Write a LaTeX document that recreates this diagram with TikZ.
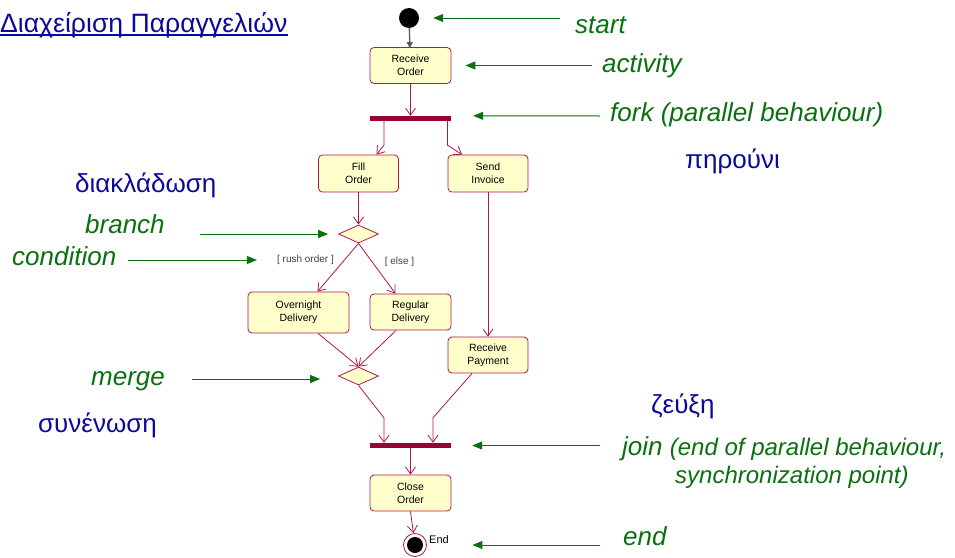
\documentclass[tikz,border=0pt]{standalone}
\usepackage{fontspec}
\setmainfont{Liberation Sans}
\usepackage{xcolor}
\usetikzlibrary{arrows.meta,shapes.geometric}
\definecolor{actborder}{HTML}{B0174A}
\definecolor{actfill}{HTML}{FFFFCC}
\definecolor{barcol}{HTML}{990033}
\definecolor{notegreen}{HTML}{0A7010}
\definecolor{noteblue}{HTML}{0A0A9A}

\begin{document}
\begin{tikzpicture}[x=1pt,y=-1pt,
  act/.style={draw=actborder, fill=actfill, rounded corners=4pt, minimum width=81pt, minimum height=36pt, align=center, font=\fontsize{10.5}{13}\selectfont, inner sep=0pt, line width=0.8pt},
  bar/.style={fill=barcol, minimum width=81pt, minimum height=5pt, inner sep=0pt},
  decision/.style={diamond, draw=actborder, fill=actfill, minimum width=40pt, minimum height=18pt, inner sep=0pt, aspect=2.2, line width=0.8pt},
  flow/.style={draw=actborder, line width=0.8pt, -{Straight Barb[length=7pt,width=10pt]}},
  note/.style={text=notegreen, font=\fontsize{26}{30}\selectfont\itshape, anchor=base west, inner sep=0pt},
  greek/.style={text=noteblue, font=\fontsize{26}{30}\selectfont, anchor=base west, inner sep=0pt},
  pointer/.style={draw=notegreen, line width=1pt, -{Triangle[length=10pt,width=8pt]}},
  guard/.style={font=\fontsize{10}{11}\selectfont, text=black!75, inner sep=0pt}]
\useasboundingbox (0,0) rectangle (955,557);

% Title
\node[text=noteblue, font=\fontsize{26.6}{30}\selectfont, anchor=base west, inner sep=0pt] (title) at (0,32) {Διαχείριση Παραγγελιών};
\draw[noteblue, line width=1.2pt] ([yshift=-3pt]title.base west) -- ([yshift=-3pt]title.base east);

% Start and end
\node[circle, fill=black, minimum size=20pt, inner sep=0pt] (start) at (409,18) {};
\node[circle, draw=actborder, fill=white, minimum size=23pt, inner sep=0pt, line width=0.8pt] (end) at (415,545) {};
\node[circle, fill=black, minimum size=16pt, inner sep=0pt] (endin) at (415,545) {};
\node[font=\fontsize{11}{12}\selectfont, anchor=west, inner sep=0pt] (endlabel) at (429,540) {End};

% Activities
\node[act] (recv) at (410.5,65.5) {Receive\\Order};
\node[act, minimum width=80pt, minimum height=37pt] (fill) at (358.5,173.5) {Fill\\Order};
\node[act, minimum width=80pt, minimum height=37pt] (send) at (488,173.5) {Send\\Invoice};
\node[act, minimum width=101pt, minimum height=41pt] (over) at (298.5,312.5) {Overnight\\Delivery};
\node[act] (reg) at (410.5,312) {Regular\\Delivery};
\node[act, minimum width=80pt] (pay) at (488,355) {Receive\\Payment};
\node[act] (close) at (410.5,493) {Close\\Order};

% Fork, join, decisions
\node[bar] (fork) at (410.5,118.5) {};
\node[bar] (join) at (410.5,445.5) {};
\node[decision] (branch) at (358.5,234) {};
\node[decision] (merge) at (358.5,376) {};

% Guards
\node[guard] (rush) at (305.5,260) {[ rush order ]};
\node[guard] (else) at (399.5,262) {[ else ]};

% Flows
\draw[black!65, line width=1.3pt, -{Triangle[length=6pt,width=6pt]}, shorten >=-1pt] (start) -- (recv);
\draw[flow] (recv) -- (fork);
\draw[flow] ([xshift=-26.5pt]fork.south) -- ++(0,24) -- ([xshift=18pt]fill.north);
\draw[flow] ([xshift=37pt]fork.south) -- ++(0,24) -- ([xshift=-26pt]send.north);
\draw[flow] (fill) -- (branch);
\draw[flow] (branch.south) -- ([xshift=19pt]over.north);
\draw[flow] (branch.south) -- ([xshift=-15pt]reg.north);
\draw[flow] (send) -- (pay);
\draw[flow] ([xshift=19.5pt]over.south) -- (merge.north);
\draw[flow] ([xshift=-14.5pt]reg.south) -- (merge.north);
\draw[flow] (merge.south) -- ([xshift=-26.5pt,yshift=25pt]join.north) -- ([xshift=-26.5pt]join.north);
\draw[flow] ([xshift=-16pt]pay.south) -- ([xshift=22.5pt,yshift=25pt]join.north) -- ([xshift=22.5pt]join.north);
\draw[flow] (join) -- (close);
\draw[flow] (close.south) -- (end);

% Notes on the right
\node[note] (startnote) at (575,33) {start};
\node[note] (actnote) at (602,72) {activity};
\node[note] (forknote) at (610,121) {fork (parallel behaviour)};
\node[greek] (pirouni) at (685,168) {πηρούνι};
\node[greek] (zeuxi) at (651,413) {ζεύξη};
\node[note] (joinnote) at (622,455) {join {\fontsize{24}{28}\selectfont (end of parallel behaviour,}};
\node[note, font=\fontsize{24}{28}\selectfont\itshape] (syncnote) at (675,483) {synchronization point)};
\node[note] (endnote) at (623,545) {end};

% Notes on the left
\node[greek] (diakl) at (75,192) {διακλάδωση};
\node[note] (branchnote) at (85,233) {branch};
\node[note] (condnote) at (12,265) {condition};
\node[note] (mergenote) at (91,385) {merge};
\node[greek] (synenosi) at (38,432) {συνένωση};

% Pointers
\coordinate (startp) at (560,18);
\coordinate (actp) at (592,65.5);
\coordinate (forkp) at (600,116);
\coordinate (joinp) at (600,445.5);
\coordinate (endp) at (600,545);
\coordinate (branchp) at (200,234);
\coordinate (condp) at (128,260);
\coordinate (mergep) at (192,379);
\draw[pointer] (startp) -- ([xshift=14pt]start.east);
\draw[pointer] (actp) -- ([xshift=14pt]recv.east);
\draw[pointer] (forkp) -- ([xshift=22pt]fork.north east);
\draw[pointer] (joinp) -- ([xshift=21pt]join.east);
\draw[pointer] (endp) -- ([xshift=45.5pt]end.east);
\draw[pointer] (branchp) -- ([xshift=-10pt]branch.west);
\draw[pointer] (condp) -- ([xshift=-20pt]rush.west);
\draw[pointer] (mergep) -- ([xshift=-18pt,yshift=-3pt]merge.west);
\end{tikzpicture}
\end{document}
